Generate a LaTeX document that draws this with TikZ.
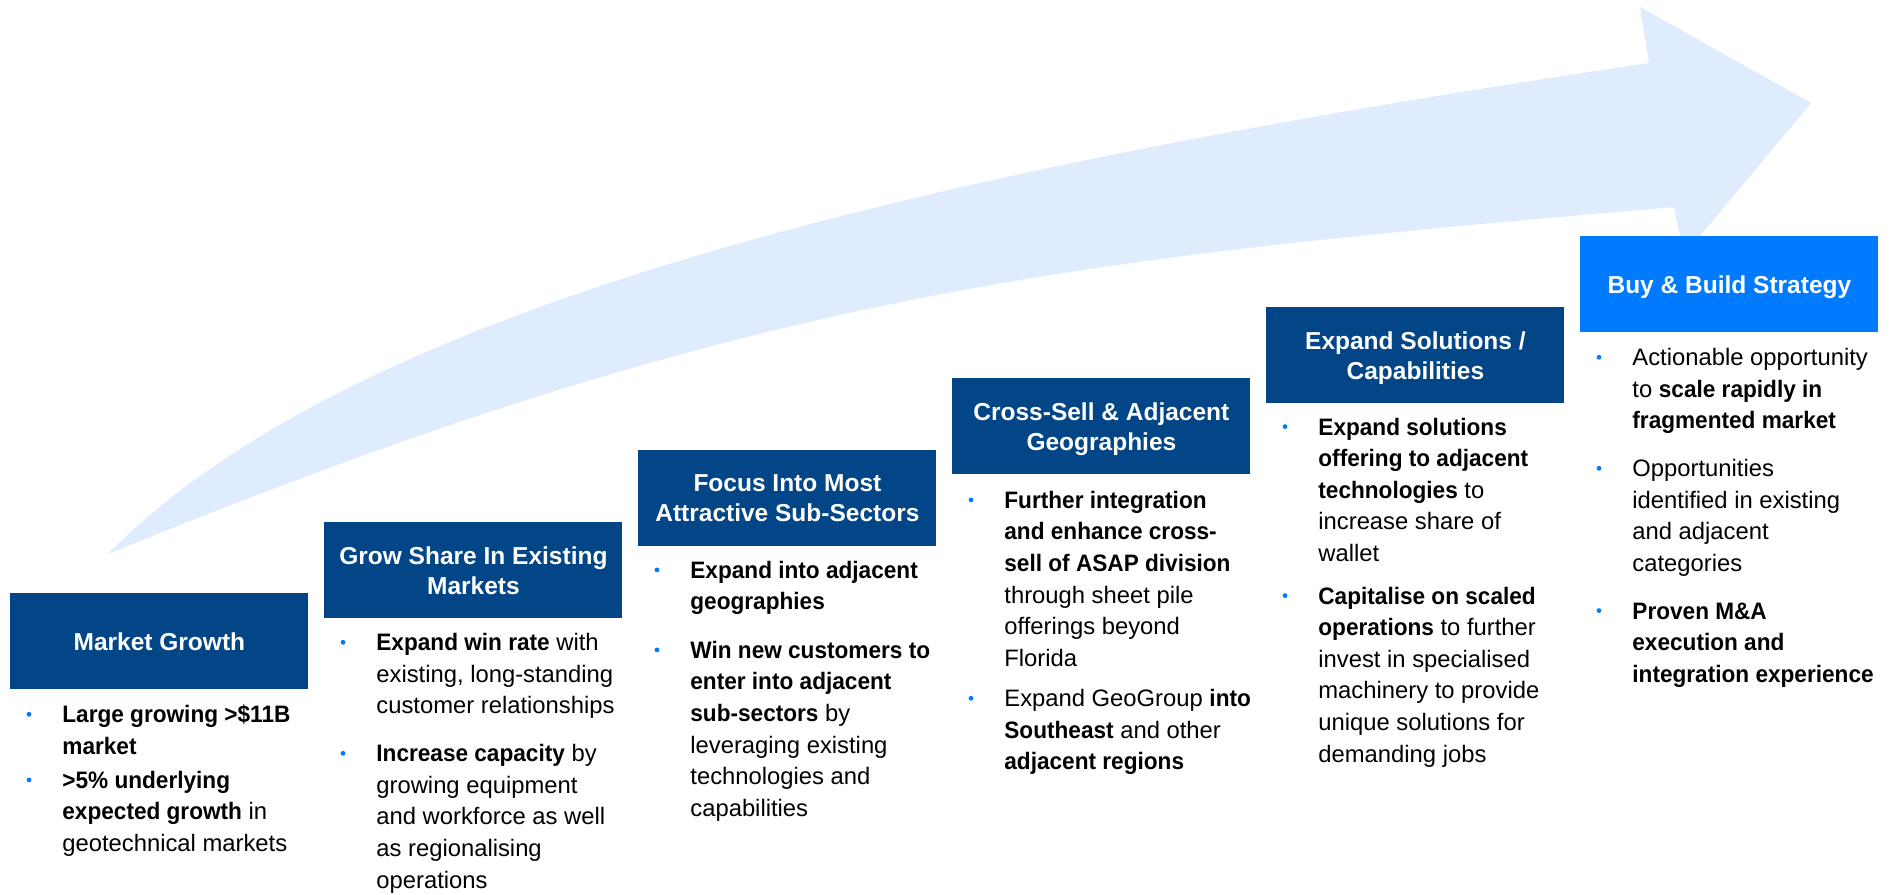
\documentclass[tikz,border=0pt]{standalone}
\usepackage{fontspec}
\setmainfont{Liberation Sans}[BoldFeatures={FakeStretch=0.95}]
\newfontfamily\titlefont{Liberation Sans}
\definecolor{darkblue}{RGB}{2,70,136}
\definecolor{brightblue}{RGB}{0,122,255}
\definecolor{arrowfill}{RGB}{223,236,253}
\newcommand\plines[1]{\vtop{\baselineskip=15.8pt\lineskiplimit=-100pt\lineskip=0pt\halign{##\hfil\cr#1\crcr}}}
\begin{document}
\begin{tikzpicture}[x=0.5pt,y=-0.5pt,
  stepbox/.style={rectangle, fill=darkblue, text=white, minimum width=149pt, minimum height=48pt,
    inner sep=0pt, anchor=north west, align=center, text depth=0pt,
    font=\titlefont\bfseries\fontsize{12.25}{15}\selectfont},
  lastbox/.style={stepbox, fill=brightblue},
  bodytext/.style={inner sep=0pt, anchor=base west, text=black, font=\fontsize{11.9}{15.8}\selectfont},
  bulletdot/.style={circle, fill=brightblue, inner sep=0pt, minimum size=2.4pt}]
\useasboundingbox (0,0) rectangle (1893,894);
\fill[white] (0,0) rectangle (1893,894);
% big arrow
\fill[arrowfill] (108,554) .. controls (358,299) and (949,167) .. (1649,63) -- (1640,7) -- (1811,103)
  -- (1684,255) -- (1674,207) .. controls (1074,259) and (758,288) .. (108,554) -- cycle;
% step boxes
\node[stepbox] (t1) at (10,593) {Market Growth};
\node[stepbox] (t2) at (324,522) {Grow Share In Existing\\Markets};
\node[stepbox] (t3) at (638,450) {Focus Into Most\\Attractive Sub-Sectors};
\node[stepbox] (t4) at (952,378) {Cross-Sell \& Adjacent\\Geographies};
\node[stepbox] (t5) at (1266,307) {Expand Solutions /\\Capabilities};
\node[lastbox] (t6) at (1580,236) {Buy \& Build Strategy};
% box 1
\node[bulletdot] (b1a) at (29,714.3) {};
\node[bodytext] (p1a) at (62,722.7) {\plines{\textbf{Large growing >\$11B}\cr\textbf{market}}};
\node[bulletdot] (b1b) at (29,779.9) {};
\node[bodytext] (p1b) at (62,788.3) {\plines{\textbf{>5\% underlying}\cr\textbf{expected growth} in\cr geotechnical markets}};
% box 2
\node[bulletdot] (b2a) at (343,642.3) {};
\node[bodytext] (p2a) at (376,650.7) {\plines{\textbf{Expand win rate} with\cr existing, long-standing\cr customer relationships}};
\node[bulletdot] (b2b) at (343,753.3) {};
\node[bodytext] (p2b) at (376,761.7) {\plines{\textbf{Increase capacity} by\cr growing equipment\cr and workforce as well\cr as regionalising\cr operations}};
% box 3
\node[bulletdot] (b3a) at (657,569.9) {};
\node[bodytext] (p3a) at (690,578.3) {\plines{\textbf{Expand into adjacent}\cr\textbf{geographies}}};
\node[bulletdot] (b3b) at (657,649.9) {};
\node[bodytext] (p3b) at (690,658.3) {\plines{\textbf{Win new customers to}\cr\textbf{enter into adjacent}\cr\textbf{sub-sectors} by\cr leveraging existing\cr technologies and\cr capabilities}};
% box 4
\node[bulletdot] (b4a) at (971,499.9) {};
\node[bodytext] (p4a) at (1004,508.3) {\plines{\textbf{Further integration}\cr\textbf{and enhance cross-}\cr\textbf{sell of ASAP division}\cr through sheet pile\cr offerings beyond\cr Florida}};
\node[bulletdot] (b4b) at (971,698.3) {};
\node[bodytext] (p4b) at (1004,706.7) {\plines{Expand GeoGroup \textbf{into}\cr\textbf{Southeast} and other\cr\textbf{adjacent regions}}};
% box 5
\node[bulletdot] (b5a) at (1285,426.6) {};
\node[bodytext] (p5a) at (1318,435) {\plines{\textbf{Expand solutions}\cr\textbf{offering to adjacent}\cr\textbf{technologies} to\cr increase share of\cr wallet}};
\node[bulletdot] (b5b) at (1285,595.6) {};
\node[bodytext] (p5b) at (1318,604) {\plines{\textbf{Capitalise on scaled}\cr\textbf{operations} to further\cr invest in specialised\cr machinery to provide\cr unique solutions for\cr demanding jobs}};
% box 6
\node[bulletdot] (b6a) at (1599,357.3) {};
\node[bodytext] (p6a) at (1632,365.7) {\plines{Actionable opportunity\cr to \textbf{scale rapidly in}\cr\textbf{fragmented market}}};
\node[bulletdot] (b6b) at (1599,468.3) {};
\node[bodytext] (p6b) at (1632,476.7) {\plines{Opportunities\cr identified in existing\cr and adjacent\cr categories}};
\node[bulletdot] (b6c) at (1599,610.6) {};
\node[bodytext] (p6c) at (1632,619) {\plines{\textbf{Proven M\&A}\cr\textbf{execution and}\cr\textbf{integration experience}}};
\end{tikzpicture}
\end{document}
